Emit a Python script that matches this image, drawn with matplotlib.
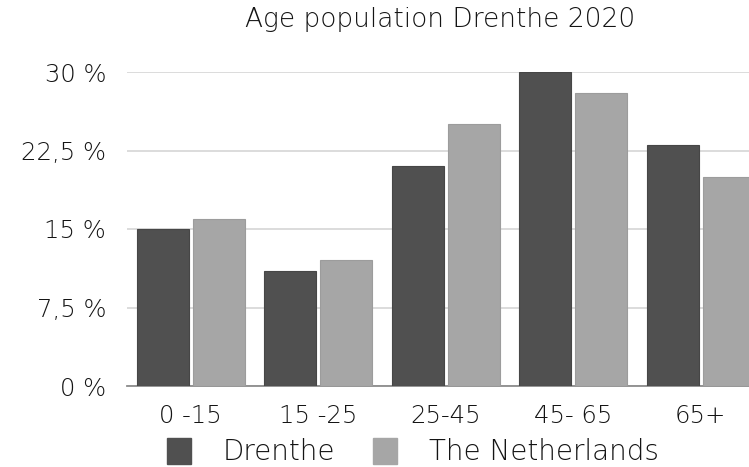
import matplotlib
matplotlib.use("Agg")
import matplotlib.pyplot as plt
from matplotlib.patches import Patch
import numpy as np

plt.rcParams['font.family'] = ['DejaVu Sans']
plt.rcParams['font.weight'] = 'light'

categories = ["0 -15", "15 -25", "25-45", "45- 65", "65+"]
drenthe = [15, 11, 21, 30, 23]
netherlands = [16, 12, 25, 28, 20]
yticks = [0, 7.5, 15, 22.5, 30]
ytick_labels = ["0 %", "7,5 %", "15 %", "22,5 %", "30 %"]

dark = "#505050"
light = "#a6a6a6"
text_color = "#141414"
fs = 17.5

fig = plt.figure(figsize=(7.49, 4.67), dpi=100)
# axes run a bit past the right edge, so the last bar is cut off
ax = fig.add_axes([127 / 749, 81 / 467, 637.5 / 749, 314 / 467])

x = np.arange(len(categories))
w = 0.41
ax.bar(x - 0.22, drenthe, w, color=dark, edgecolor="#464646", linewidth=0.8, zorder=3)
ax.bar(x + 0.22, netherlands, w, color=light, edgecolor="#9c9c9c", linewidth=0.8, zorder=3)

ax.set_xlim(-0.5, len(categories) - 0.5)
ax.set_ylim(0, 30)
ax.set_yticks(yticks)
ax.set_yticklabels(ytick_labels)
ax.set_xticks(x)
ax.set_xticklabels(categories)
ax.yaxis.grid(True, color="#d9d9d9", linewidth=1.3, zorder=0)
ax.tick_params(axis="y", length=0, pad=15, labelsize=fs, labelcolor=text_color)
ax.tick_params(axis="x", length=0, pad=13, labelsize=fs, labelcolor=text_color)
for side in ["top", "right", "left"]:
    ax.spines[side].set_visible(False)
ax.spines["bottom"].set_color("#8c8c8c")
ax.spines["bottom"].set_linewidth(1.3)

fig.text(440 / 749, 1 - 20 / 467, "Age population Drenthe 2020", ha="center", va="center",
         fontsize=19, color=text_color)

handles = [Patch(facecolor=dark, edgecolor=dark), Patch(facecolor=light, edgecolor=light)]
fig.legend(handles, ["Drenthe", "The Netherlands"], loc="center left",
           bbox_to_anchor=(167 / 749, 1 - 452 / 467), ncol=2, frameon=False,
           fontsize=20, handlelength=0.86, handleheight=1.1, handletextpad=1.15,
           columnspacing=1.37, labelcolor=text_color, borderaxespad=0, borderpad=0)

fig.savefig("out.png", dpi=100)
